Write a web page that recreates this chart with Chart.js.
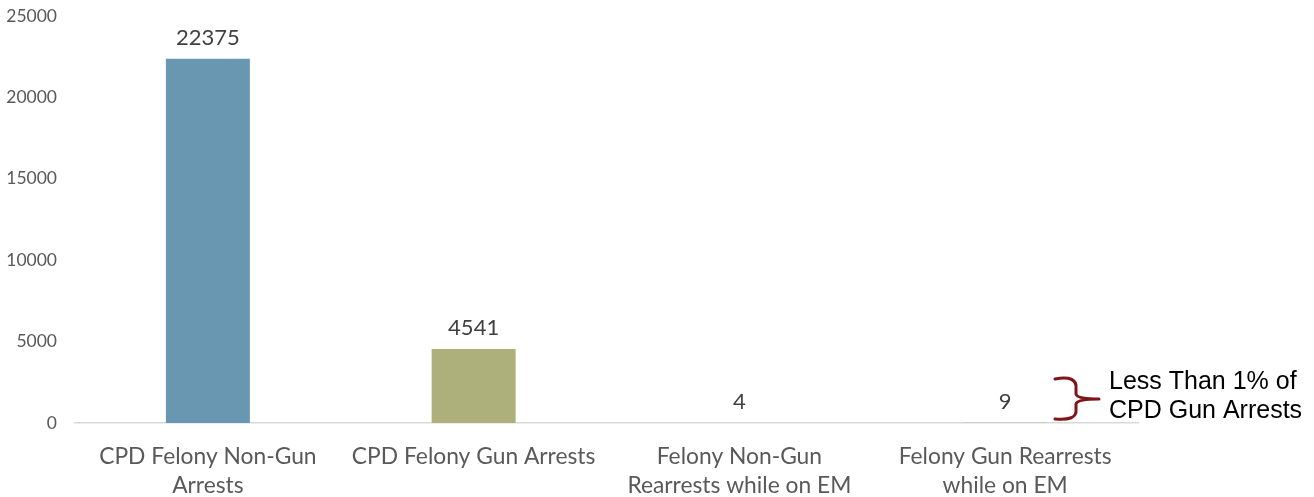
<!DOCTYPE html>
<html>
<head>
<meta charset="utf-8">
<script src="https://cdn.jsdelivr.net/npm/chart.js@4"></script>
<style>
  html, body { margin: 0; padding: 0; background: #fff; }
  #wrap { width: 1314px; height: 497px; }
</style>
</head>
<body>
<div id="wrap"><canvas id="chart"></canvas></div>
<script>
/* data */
const categories = [
  ["CPD Felony Non-Gun", "Arrests"],
  "CPD Felony Gun Arrests",
  ["Felony Non-Gun", "Rearrests while on EM"],
  ["Felony Gun Rearrests", "while on EM"]
];
const counts = [22375, 4541, 4, 9];
const barColors = ["#6996B0", "#ADB07A", "#6996B0", "#ADB07A"];
const yTicks = [0, 5000, 10000, 15000, 20000, 25000];
const noteLines = ["Less Than 1% of", "CPD Gun Arrests"];

const FONT = "Lato, 'Open Sans', sans-serif";

/* value labels above each bar */
const valueLabels = {
  id: "valueLabels",
  afterDatasetsDraw(chart) {
    const ctx = chart.ctx;
    const meta = chart.getDatasetMeta(0);
    ctx.save();
    ctx.font = "22px " + FONT;
    ctx.fillStyle = "#404040";
    ctx.textAlign = "center";
    ctx.textBaseline = "middle";
    meta.data.forEach((bar, i) => {
      ctx.fillText(String(counts[i]), bar.x, bar.y - 21);
    });
    ctx.restore();
  }
};

/* curly brace + note next to the two small bars */
const braceNote = {
  id: "braceNote",
  afterDraw(chart) {
    const ctx = chart.ctx;
    const area = chart.chartArea;
    const y = chart.scales.y;
    const yBot = y.getPixelForValue(0) - 3;
    const yTop = yBot - 42;
    const yMid = (yTop + yBot) / 2;
    const x0 = area.right - 83;
    const x1 = x0 + 21;
    const xTip = x0 + 44;

    ctx.save();
    ctx.strokeStyle = "#7F1518";
    ctx.lineWidth = 3;
    ctx.lineCap = "round";
    ctx.beginPath();
    ctx.moveTo(x0, yTop + 1);
    ctx.quadraticCurveTo(x1 + 1, yTop - 3, x1, yTop + 10);
    ctx.lineTo(x1, yMid - 5);
    ctx.quadraticCurveTo(x1 + 1, yMid, xTip, yMid);
    ctx.moveTo(xTip, yMid);
    ctx.quadraticCurveTo(x1 + 1, yMid, x1, yMid + 5);
    ctx.lineTo(x1, yBot - 10);
    ctx.quadraticCurveTo(x1 + 1, yBot + 1, x0, yBot - 1);
    ctx.stroke();

    ctx.fillStyle = "#000";
    ctx.font = "25px 'Liberation Sans', Arial, sans-serif";
    ctx.textAlign = "left";
    ctx.textBaseline = "middle";
    ctx.fillText(noteLines[0], x0 + 54, yMid - 17);
    ctx.fillText(noteLines[1], x0 + 54, yMid + 12);
    ctx.restore();
  }
};

new Chart(document.getElementById("chart"), {
  type: "bar",
  data: {
    labels: categories,
    datasets: [{
      data: counts,
      backgroundColor: barColors,
      borderWidth: 0,
      barPercentage: 0.316,
      categoryPercentage: 1
    }]
  },
  options: {
    responsive: true,
    maintainAspectRatio: false,
    animation: false,
    layout: { padding: { top: 16, right: 176, left: 0, bottom: 0 } },
    plugins: {
      legend: { display: false },
      tooltip: { enabled: false }
    },
    scales: {
      x: {
        grid: { display: false, drawTicks: false },
        border: { display: true, color: "#D9D9D9", width: 1.5 },
        ticks: {
          color: "#595959",
          font: { family: FONT, size: 22.8, lineHeight: 1.27 },
          padding: 19,
          maxRotation: 0,
          autoSkip: false
        },
        afterFit: s => { s.height = 74; }
      },
      y: {
        min: 0,
        max: 25000,
        grid: { display: false, drawTicks: false },
        border: { display: false },
        afterBuildTicks: s => { s.ticks = yTicks.map(v => ({ value: v })); },
        ticks: {
          color: "#595959",
          font: { family: FONT, size: 17.5 },
          padding: 18,
          callback: v => String(v)
        },
        afterFit: s => {
          s.width = 75;
          s.paddingTop = 5;
          s.paddingBottom = 5;
        }
      }
    }
  },
  plugins: [valueLabels, braceNote]
});
</script>
</body>
</html>
